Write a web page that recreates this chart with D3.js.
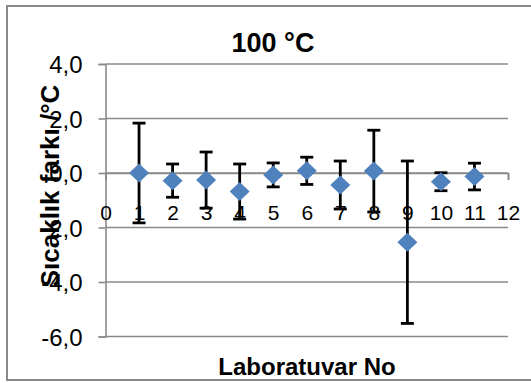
<!DOCTYPE html>
<html>
<head>
<meta charset="utf-8">
<script src="https://cdn.jsdelivr.net/npm/d3@7"></script>
<style>
  html, body { margin: 0; padding: 0; background: #fff; }
  svg { display: block; }
  text { font-family: "Liberation Sans", Arial, sans-serif; fill: #000; }
</style>
</head>
<body>
<div id="chart"></div>
<script>
// Laboratory number, mean temperature difference and its uncertainty (°C)
const labs = [1, 2, 3, 4, 5, 6, 7, 8, 9, 10, 11];
const diffs = [0.00, -0.28, -0.26, -0.68, -0.07, 0.08, -0.44, 0.07, -2.54, -0.32, -0.13];
const uncert = [1.83, 0.61, 1.03, 1.01, 0.44, 0.50, 0.88, 1.50, 2.98, 0.33, 0.49];
const yTicks = [4, 2, 0, -2, -4, -6];
const xTicks = [0, 1, 2, 3, 4, 5, 6, 7, 8, 9, 10, 11, 12];
const title = "100 °C";
const xTitle = "Laboratuvar No";
const yTitle = "Sıcaklık farkı /°C";

const W = 531, H = 383;
const svg = d3.select("#chart").append("svg").attr("width", W).attr("height", H);

// outer chart frame
svg.append("rect")
  .attr("x", 7).attr("y", 6).attr("width", 560).attr("height", 374)
  .attr("fill", "none").attr("stroke", "#8a8a8a").attr("stroke-width", 2);

const x = d3.scaleLinear().domain([0, 12]).range([105.5, 508]);
const y = d3.scaleLinear().domain([-6, 4]).range([336.5, 64]);

const gridColor = "#8a8a8a";

// horizontal gridlines
svg.append("g").selectAll("line").data(yTicks).join("line")
  .attr("x1", x(0)).attr("x2", x(12))
  .attr("y1", d => y(d)).attr("y2", d => y(d))
  .attr("stroke", gridColor).attr("stroke-width", 1.6);

// vertical value axis with outward ticks
const yAxis = d3.axisLeft(y).tickValues(yTicks).tickSize(7)
  .tickFormat(d => d3.format(".1f")(d).replace(".", ",").replace("−", "-"));
const gy = svg.append("g").attr("transform", `translate(${x(0)},0)`).call(yAxis);
gy.select(".domain").attr("stroke", gridColor).attr("stroke-width", 1.6);
gy.selectAll(".tick line").attr("stroke", gridColor).attr("stroke-width", 1.6);
gy.selectAll(".tick text")
  .attr("x", -23).attr("dy", "0.36em")
  .style("font-size", "24px").style("font-family", "Liberation Sans, Arial, sans-serif")
  .attr("fill", "#000");

// horizontal axis crossing at zero, labels just below it
const xAxis = d3.axisBottom(x).tickValues(xTicks).tickSize(7).tickFormat(d3.format("d"));
const gx = svg.append("g").attr("transform", `translate(0,${y(0)})`).call(xAxis);
gx.select(".domain").attr("stroke", gridColor).attr("stroke-width", 1.6);
gx.selectAll(".tick line").attr("stroke", gridColor).attr("stroke-width", 1.6);
gx.selectAll(".tick text")
  .attr("y", 47).attr("dy", 0)
  .style("font-size", "21px").style("font-family", "Liberation Sans, Arial, sans-serif")
  .attr("fill", "#000");

// error bars
const bars = svg.append("g").selectAll("g").data(labs).join("g");
bars.append("line")
  .attr("x1", (d) => x(d)).attr("x2", (d) => x(d))
  .attr("y1", (d, i) => y(diffs[i] + uncert[i]))
  .attr("y2", (d, i) => y(diffs[i] - uncert[i]))
  .attr("stroke", "#000").attr("stroke-width", 2.8);
[1, -1].forEach(s => {
  bars.append("line")
    .attr("x1", d => x(d) - 6.5).attr("x2", d => x(d) + 6.5)
    .attr("y1", (d, i) => y(diffs[i] + s * uncert[i]))
    .attr("y2", (d, i) => y(diffs[i] + s * uncert[i]))
    .attr("stroke", "#000").attr("stroke-width", 2.8);
});

// diamond markers
const hw = 10, hh = 9.5;
svg.append("g").selectAll("path").data(labs).join("path")
  .attr("d", `M0,${-hh}L${hw},0L0,${hh}L${-hw},0Z`)
  .attr("transform", (d, i) => `translate(${x(d)},${y(diffs[i])})`)
  .attr("fill", "#4f81bd");

// titles
svg.append("text").attr("x", 273).attr("y", 52).attr("text-anchor", "middle")
  .style("font-size", "27px").style("font-weight", "bold").text(title);
svg.append("text").attr("x", 307).attr("y", 375).attr("text-anchor", "middle")
  .style("font-size", "24px").style("font-weight", "bold").text(xTitle);
svg.append("text").attr("transform", "translate(59,186) rotate(-90)")
  .attr("text-anchor", "middle")
  .style("font-size", "26px").style("font-weight", "bold").text(yTitle);
</script>
</body>
</html>
